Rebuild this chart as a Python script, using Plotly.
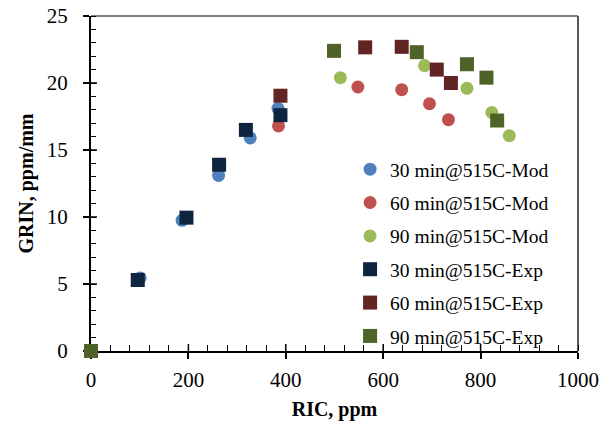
import plotly.graph_objects as go

# ---- data ----
x_30_mod = [0, 101, 187, 262, 327, 384]
y_30_mod = [0, 5.45, 9.75, 13.1, 15.9, 18.1]
x_60_mod = [0, 385, 548, 638, 695, 734]
y_60_mod = [0, 16.8, 19.7, 19.5, 18.45, 17.26]
x_90_mod = [0, 512, 685, 772, 823, 859]
y_90_mod = [0, 20.4, 21.3, 19.6, 17.8, 16.07]
x_30_exp = [0, 96, 196, 263, 318, 389]
y_30_exp = [0, 5.3, 9.95, 13.9, 16.5, 17.6]
x_60_exp = [0, 389, 563, 638, 710, 739]
y_60_exp = [0, 19.05, 22.66, 22.7, 21.0, 20.0]
x_90_exp = [0, 499, 669, 772, 812, 834]
y_90_exp = [0, 22.4, 22.3, 21.4, 20.4, 17.2]

names = ["30 min@515C-Mod", "60 min@515C-Mod", "90 min@515C-Mod",
         "30 min@515C-Exp", "60 min@515C-Exp", "90 min@515C-Exp"]
xs = [x_30_mod, x_60_mod, x_90_mod, x_30_exp, x_60_exp, x_90_exp]
ys = [y_30_mod, y_60_mod, y_90_mod, y_30_exp, y_60_exp, y_90_exp]
colors = ["#4F81BD", "#C0504D", "#9BBB59", "#0F243E", "#632523", "#4F6228"]
symbols = ["circle", "circle", "circle", "square", "square", "square"]
sizes = [13, 13, 13, 14, 14, 14]

x_range = [0, 1000]
y_range = [0, 25]
x_major = list(range(0, 1001, 200))
y_major = list(range(0, 26, 5))

FONT = "Liberation Serif, Times New Roman, serif"

fig = go.Figure()
for i in range(6):
    fig.add_trace(go.Scatter(
        x=xs[i], y=ys[i], mode="markers", name=names[i],
        legendgroup=f"g{i}",
        marker=dict(color=colors[i], symbol=symbols[i], size=sizes[i],
                    line=dict(width=0)),
        cliponaxis=False,
    ))

shapes = [
    dict(type="line", xref="paper", yref="paper", x0=0, x1=1, y0=1, y1=1,
         line=dict(color="#7F7F7F", width=2), layer="below"),
    dict(type="line", xref="paper", yref="paper", x0=1, x1=1, y0=0, y1=1,
         line=dict(color="#595959", width=2), layer="below"),
]
# inner half of the major ticks (Excel-style crossing ticks)
for v in x_major[1:-1]:
    shapes.append(dict(type="line", xref="x", yref="y", ysizemode="pixel", yanchor=0,
                       x0=v, x1=v, y0=0, y1=7,
                       line=dict(color="black", width=1.5), layer="below"))
for v in y_major[1:-1]:
    shapes.append(dict(type="line", xref="x", yref="y", xsizemode="pixel", xanchor=0,
                       x0=0, x1=6, y0=v, y1=v,
                       line=dict(color="black", width=1.5), layer="below"))

fig.update_layout(
    width=602, height=421,
    margin=dict(l=91, r=24, t=16, b=70, autoexpand=False),
    paper_bgcolor="white", plot_bgcolor="rgba(0,0,0,0)",
    font=dict(family=FONT, color="black", size=20),
    showlegend=True,
    legend=dict(x=0.532, y=0.6, xanchor="left", yanchor="top",
                font=dict(family=FONT, size=19.5, color="black"),
                bgcolor="rgba(0,0,0,0)", tracegroupgap=5,
                traceorder="grouped", itemwidth=30),
    xaxis=dict(range=x_range, tickvals=x_major, showgrid=False, zeroline=False,
               showline=True, linecolor="black", linewidth=2, automargin=False,
               ticks="outside", ticklen=6, tickwidth=1.5, tickcolor="black",
               minor=dict(dtick=40, ticks="inside", ticklen=6, tickwidth=1,
                          tickcolor="black"),
               layer="below traces", ticklabelstandoff=3,
               tickfont=dict(family=FONT, size=21),
               title=dict(text="<b>RIC, ppm</b>", font=dict(family=FONT, size=20),
                          standoff=11)),
    yaxis=dict(range=y_range, tickvals=y_major, showgrid=False, zeroline=False,
               showline=True, linecolor="black", linewidth=2, automargin=False,
               ticks="outside", ticklen=6, tickwidth=1.5, tickcolor="black",
               minor=dict(dtick=1, ticks="inside", ticklen=5, tickwidth=1,
                          tickcolor="black"),
               layer="below traces", ticklabelstandoff=11,
               tickfont=dict(family=FONT, size=21),
               title=dict(text="<b>GRIN, ppm/mm</b>", font=dict(family=FONT, size=20),
                          standoff=8)),
    shapes=shapes,
)

fig.write_html("out.html", config={"displayModeBar": False},
               post_script="document.body.style.margin='0';")
